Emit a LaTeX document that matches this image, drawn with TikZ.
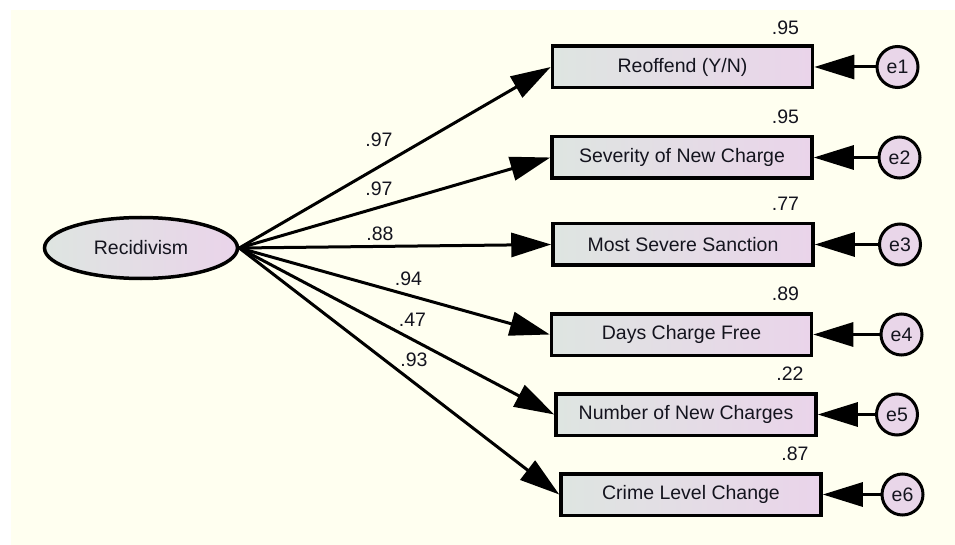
\documentclass[tikz,border=0pt]{standalone}
\usepackage{fontspec}
\setmainfont{Liberation Sans}
\usetikzlibrary{arrows.meta,shapes.geometric}
\definecolor{paper}{RGB}{255,255,240}
\definecolor{lightend}{RGB}{222,229,225}
\definecolor{pinkend}{RGB}{234,212,234}
\definecolor{errfill}{RGB}{233,214,233}
\definecolor{ink}{RGB}{20,20,30}
\begin{document}
\begin{tikzpicture}[x=1pt,y=-1pt,
  every node/.style={font=\fontsize{19.5}{22}\selectfont, text=ink},
  indicator/.style={rectangle, draw=black, line width=3.5pt, minimum width=260pt,
    minimum height=41.5pt, inner sep=0pt, left color=lightend, right color=pinkend},
  latent/.style={ellipse, draw=black, line width=3.5pt, minimum width=193pt,
    minimum height=61pt, inner sep=0pt, left color=lightend, right color=pinkend},
  errterm/.style={circle, draw=black, line width=3pt, minimum size=41pt,
    inner sep=0pt, fill=errfill},
  loading/.style={line width=3pt, draw=black, -{Triangle[length=40pt,width=24pt]}},
  coef/.style={inner sep=0pt}
]
% canvas
\useasboundingbox (0,0) rectangle (955,545);
\fill[paper] (11,10) rectangle (955,545);

% latent factor
\node[latent] (rec) at (141,248) {Recidivism};

% observed indicators
\node[indicator] (b1) at (682.5,67)  {Reoffend (Y/N)};
\node[indicator] (b2) at (682,157.5) {Severity of New Charge};
\node[indicator] (b3) at (683,244.5) {Most Severe Sanction};
\node[indicator] (b4) at (681.5,334.5) {Days Charge Free};
\node[indicator] (b5) at (686,414.5) {Number of New Charges};
\node[indicator] (b6) at (691,494.5) {Crime Level Change};

% error terms
\node[errterm] (e1) at (897.5,67)  {e1};
\node[errterm] (e2) at (899.5,157.5) {e2};
\node[errterm] (e3) at (900,244.5) {e3};
\node[errterm] (e4) at (901.5,334.5) {e4};
\node[errterm] (e5) at (897,414.5) {e5};
\node[errterm] (e6) at (902.5,494.5) {e6};

% squared multiple correlations
\node[coef] (r1) at (785.5,28)  {.95};
\node[coef] (r2) at (785.5,117) {.95};
\node[coef] (r3) at (785.5,203.5) {.77};
\node[coef] (r4) at (785.5,293.5) {.89};
\node[coef] (r5) at (790,374)  {.22};
\node[coef] (r6) at (795,454)  {.87};

% standardized loadings
\node[coef] (l1) at (379,140)   {.97};
\node[coef] (l2) at (379,189)   {.97};
\node[coef] (l3) at (380,234)   {.88};
\node[coef] (l4) at (408.5,278.5) {.94};
\node[coef] (l5) at (412.5,320) {.47};
\node[coef] (l6) at (414,360)   {.93};

% factor paths
\foreach \i in {1,...,6}{
  \draw[loading] (rec.east) -- (b\i.west);
  \draw[loading] (e\i) -- (b\i);
}
\end{tikzpicture}
\end{document}
